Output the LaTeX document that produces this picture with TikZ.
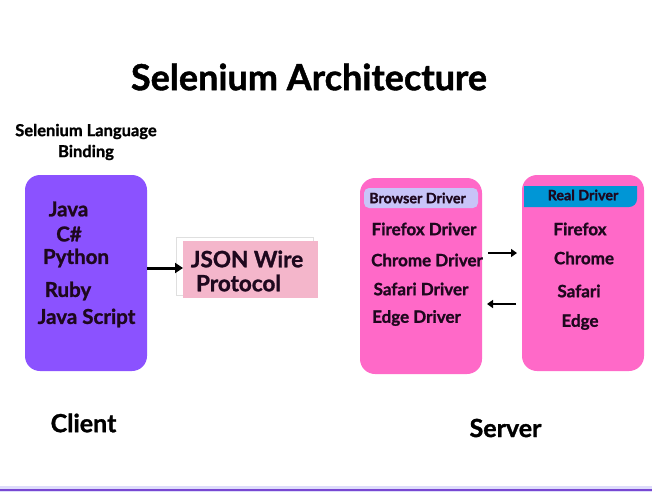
\documentclass[tikz,border=0pt]{standalone}
\usepackage{fontspec}
\setmainfont{Lato}[BoldFeatures={FakeBold=1.2}]
\usetikzlibrary{arrows.meta}
\definecolor{clientpurple}{RGB}{139,82,255}
\definecolor{jsonpink}{RGB}{244,182,203}
\definecolor{hotpink}{RGB}{255,105,200}
\definecolor{lavender}{RGB}{200,196,248}
\definecolor{realblue}{RGB}{0,150,214}
\definecolor{txt}{RGB}{30,8,30}
\definecolor{lineviolet}{RGB}{120,72,210}
\tikzset{
  item/.style={font=\bfseries\fontsize{20.5}{22}\selectfont, text=txt, inner sep=0pt, anchor=center},
  sitem/.style={font=\bfseries\fontsize{17}{19}\selectfont, text=txt, inner sep=0pt, anchor=center},
  hdr/.style={font=\bfseries\fontsize{14.3}{16}\selectfont, text=txt, inner sep=0pt},
  conn/.style={-{Triangle[length=8pt,width=10pt]}, line width=3pt},
  sconn/.style={-{Triangle[length=6pt,width=8pt]}, line width=2pt}
}
\begin{document}
\begin{tikzpicture}[x=1pt,y=-1pt]
\useasboundingbox (0,0) rectangle (652,492);
\fill[white] (0,0) rectangle (652,492);
% bottom band
\fill[lavender!60] (0,486) rectangle (652,492);
\draw[lineviolet, line width=2pt] (0,489.5) -- (652,489.5);
% title
\node[font=\bfseries\fontsize{36}{40}\selectfont, inner sep=0pt] (title) at (309,77) {Selenium Architecture};
\node[font=\bfseries\fontsize{16.5}{21}\selectfont, align=center, inner sep=0pt] (bindlbl) at (86,142) {Selenium Language\\Binding};
% client box
\fill[clientpurple, rounded corners=15pt] (25,175) rectangle (147,371);
\coordinate (clientE) at (147,268);
\node[item] (java) at (68.5,209) {Java};
\node[item] (cs) at (69,234) {C\#};
\node[item] (py) at (76,258) {Python};
\node[item] (ruby) at (68,291) {Ruby};
\node[item] (js) at (86.5,318) {Java Script};
% json box
\draw[gray!25, line width=0.6pt] (176,237) rectangle (313,295);
\fill[jsonpink] (183,241) rectangle (318,298);
\coordinate (jsonW) at (183,268);
\node[item, font=\bfseries\fontsize{22.5}{24}\selectfont] (json1) at (247,259) {JSON Wire};
\node[item, font=\bfseries\fontsize{22.5}{24}\selectfont] (json2) at (238.5,283) {Protocol};
\draw[conn] (clientE) -- (jsonW);
% browser driver box
\fill[hotpink, rounded corners=15pt] (360,178) rectangle (482,374);
\fill[lavender, rounded corners=5pt] (364,188) rectangle (478,208);
\node[hdr] (bdh) at (417.5,198) {Browser Driver};
\node[sitem] (ffd) at (424,229) {Firefox Driver};
\node[sitem] (chd) at (427,260) {Chrome Driver};
\node[sitem] (sfd) at (421,289) {Safari Driver};
\node[sitem] (edd) at (416.5,318) {Edge Driver};
% real driver box
\fill[hotpink, rounded corners=15pt] (522,175) rectangle (644,371);
\fill[realblue] (524,186) -- (637,186) -- (637,199) to[out=-90,in=0] (629,207) -- (524,207) -- cycle;
\node[hdr] (rdh) at (583,195) {Real Driver};
\node[sitem] (ff) at (580,229) {Firefox};
\node[sitem] (ch) at (584,258) {Chrome};
\node[sitem] (sf) at (579,291) {Safari};
\node[sitem] (ed) at (580,322) {Edge};
% arrows between server boxes
\coordinate (a1s) at (488,253);
\coordinate (a1e) at (517,253);
\coordinate (a2s) at (516,304);
\coordinate (a2e) at (487,304);
\draw[sconn] (a1s) -- (a1e);
\draw[sconn] (a2s) -- (a2e);
% bottom labels
\node[font=\bfseries\fontsize{25}{27}\selectfont, inner sep=0pt] (client) at (83.5,423) {Client};
\node[font=\bfseries\fontsize{25}{27}\selectfont, inner sep=0pt] (server) at (505.5,428) {Server};
\end{tikzpicture}
\end{document}
